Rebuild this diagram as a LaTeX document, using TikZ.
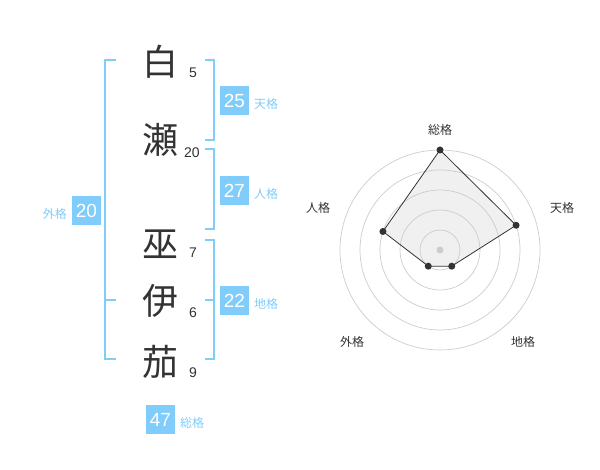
\documentclass[tikz,border=0pt]{standalone}
\usepackage{fontspec}
\setmainfont{Liberation Sans}
\newfontfamily\jp{Noto Sans CJK JP}
\definecolor{sky}{HTML}{80CCFA}
\definecolor{ink}{HTML}{333333}
\definecolor{ring}{HTML}{CCCCCC}
\begin{document}
\begin{tikzpicture}[x=1pt,y=-1pt,
  kanji/.style={font=\jp\fontsize{36}{36}\selectfont,text=ink,inner sep=0},
  strokes/.style={font=\fontsize{14}{14}\selectfont,text=ink,inner sep=0},
  numbox/.style={fill=sky,text=white,font=\fontsize{19}{19}\selectfont,minimum width=29,minimum height=29,inner sep=0},
  kaku/.style={font=\jp\fontsize{12}{12}\selectfont,text=sky,inner sep=0},
  bracket/.style={draw=sky,line width=1.8},
  axislabel/.style={font=\jp\fontsize{12}{12}\selectfont,text=ink,inner sep=0},
  ringline/.style={draw=ring,line width=0.7},
  dot/.style={circle,fill=ink,inner sep=0,minimum size=7}]
\useasboundingbox (0,0) rectangle (600,470);
% characters
\node[kanji] (c1) at (160,62) {白};
\node[kanji] (c2) at (160,140) {瀬};
\node[kanji] (c3) at (160,244) {巫};
\node[kanji] (c4) at (160,301) {伊};
\node[kanji] (c5) at (160,362) {茄};
\node[strokes] (s1) at (193,73) {5};
\node[strokes] (s2) at (192,153) {20};
\node[strokes] (s3) at (193,253) {7};
\node[strokes] (s4) at (193,313) {6};
\node[strokes] (s5) at (193,373) {9};
% brackets
\draw[bracket] (116,60) -- (105,60) -- (105,359) -- (116,359);
\draw[bracket] (105,300) -- (116,300);
\draw[bracket] (205,60) -- (214,60) -- (214,140) -- (205,140);
\draw[bracket] (205,149) -- (214,149) -- (214,229) -- (205,229);
\draw[bracket] (205,240) -- (214,240) -- (214,359) -- (205,359);
\draw[bracket] (205,300) -- (214,300);
% boxes
\node[numbox] (b1) at (234.5,100.5) {25};
\node[kaku,anchor=west] (k1) at (254,104) {天格};
\node[numbox] (b2) at (234.5,190.5) {27};
\node[kaku,anchor=west] (k2) at (254,194) {人格};
\node[numbox] (b3) at (234.5,300.5) {22};
\node[kaku,anchor=west] (k3) at (254,304) {地格};
\node[numbox] (b4) at (86.5,210.5) {20};
\node[kaku,anchor=east] (k4) at (67,214) {外格};
\node[numbox] (b5) at (160.5,419.5) {47};
\node[kaku,anchor=west] (k5) at (180,423) {総格};
% radar (y axis points down, so angles are mirrored)
\coordinate (o) at (440,250);
\fill[black!6] ([shift={(-90:100)}]o) -- ([shift={(-18:80)}]o) -- ([shift={(54:20)}]o) -- ([shift={(126:20)}]o) -- ([shift={(-162:60)}]o) -- cycle;
\foreach \r in {20,40,60,80,100} \draw[ringline] (o) circle[radius=\r];
\fill[ring] (o) circle[radius=3.5];
\node[dot] (p1) at ([shift={(-90:100)}]o) {};
\node[dot] (p2) at ([shift={(-18:80)}]o) {};
\node[dot] (p3) at ([shift={(54:20)}]o) {};
\node[dot] (p4) at ([shift={(126:20)}]o) {};
\node[dot] (p5) at ([shift={(-162:60)}]o) {};
\draw[ink,line width=0.8] (p1.center) -- (p2.center) -- (p3.center) -- (p4.center) -- (p5.center) -- cycle;
\node[axislabel] (a1) at (440,130) {総格};
\node[axislabel] (a2) at (562,208) {天格};
\node[axislabel] (a3) at (523,342) {地格};
\node[axislabel] (a4) at (352,342) {外格};
\node[axislabel] (a5) at (318,208) {人格};
\end{tikzpicture}
\end{document}
